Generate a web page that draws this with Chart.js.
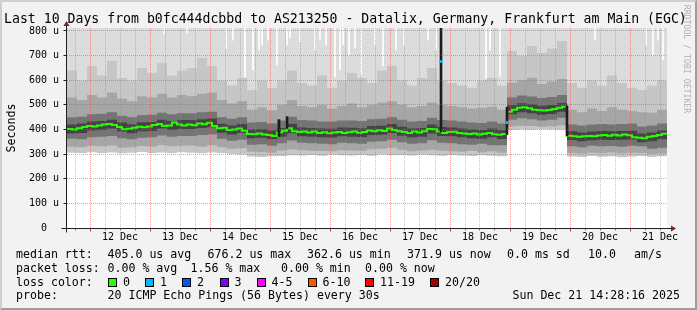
<!DOCTYPE html>
<html>
<head>
<meta charset="utf-8">
<script src="https://cdn.jsdelivr.net/npm/chart.js@4.4.1/dist/chart.umd.min.js"></script>
<style>
html,body{margin:0;padding:0;}
body{width:697px;height:310px;overflow:hidden;background:#f2f2f2;position:relative;font-family:'DejaVu Sans Mono',monospace;color:#000;}
#c{position:absolute;left:0;top:0;}
.t{position:absolute;white-space:pre;line-height:14px;font-size:11.6px;}
#title{left:4px;top:12px;font-size:13.2px;}
#frame{position:absolute;left:0;top:0;width:697px;height:310px;box-sizing:border-box;border-top:2px solid #cfcfcf;border-left:2px solid #cfcfcf;border-right:2px solid #9e9e9e;border-bottom:2px solid #9e9e9e;pointer-events:none;}
.sw{position:absolute;width:9px;height:9px;box-sizing:border-box;border:1px solid #000;top:278px;}
</style>
</head>
<body>
<canvas id="c" width="697" height="310"></canvas>
<div class="t" id="title">Last 10 Days from b0fc444dcbbd to AS213250 - Datalix, Germany, Frankfurt am Main (EGC)</div>
<div class="t" style="left:-14px;top:120.5px;width:50px;text-align:center;transform:rotate(-90deg);">Seconds</div>
<div class="t" style="left:632px;top:52px;width:110px;text-align:center;font-size:8.2px;color:#b0b0b0;transform:rotate(90deg);">RRDTOOL / TOBI OETIKER</div>

<div class="t" style="left:16px;top:247px">median rtt:</div>
<div class="t" style="left:107.5px;top:247px">405.0 us avg</div>
<div class="t" style="left:207.5px;top:247px">676.2 us max</div>
<div class="t" style="left:307px;top:247px">362.6 us min</div>
<div class="t" style="left:407px;top:247px">371.9 us now</div>
<div class="t" style="left:507px;top:247px">0.0 ms sd</div>
<div class="t" style="left:588px;top:247px">10.0</div>
<div class="t" style="left:634px;top:247px">am/s</div>

<div class="t" style="left:16px;top:260.8px">packet loss:</div>
<div class="t" style="left:107.5px;top:260.8px">0.00 % avg</div>
<div class="t" style="left:190.5px;top:260.8px">1.56 % max</div>
<div class="t" style="left:281px;top:260.8px">0.00 % min</div>
<div class="t" style="left:365px;top:260.8px">0.00 % now</div>

<div class="t" style="left:16px;top:274.6px">loss color:</div>
<div id="legend"></div>

<div class="t" style="left:16px;top:288.4px">probe:</div>
<div class="t" style="left:107.5px;top:288.4px">20 ICMP Echo Pings (56 Bytes) every 30s</div>
<div class="t" style="right:17px;top:288.4px">Sun Dec 21 14:28:16 2025</div>
<div id="frame"></div>

<script>
// ---------- data ----------
const dayLabels = ['12 Dec','13 Dec','14 Dec','15 Dec','16 Dec','17 Dec','18 Dec','19 Dec','20 Dec','21 Dec'];
const firstMidnightHour = 9.2; // hours from graph start to 12 Dec 00:00
const yTickValues = [0,100,200,300,400,500,600,700,800];
const yTickLabels = ['0  ','100 u','200 u','300 u','400 u','500 u','600 u','700 u','800 u'];

// median rtt (us), every 2 hours from graph start
const medianHours = Array.from({length:121}, (_, i) => i * 2);
const medianRtt = [
 402,400,405,410,414,412,416,420,422,418,410,401,403,407,411,409,412,418,422,414,
 416,428,420,416,420,417,424,421,427,414,405,407,398,400,404,395,382,381,384,380,
 378,374,388,395,405,393,390,392,388,392,386,389,385,388,390,386,389,392,387,390,
 396,393,397,394,404,398,393,390,386,392,388,393,402,401,392,386,390,391,386,384,
 382,384,380,383,386,381,379,382,472,480,488,490,486,480,478,477,479,483,488,492,
 375,372,370,373,374,372,376,378,375,379,376,380,377,368,366,364,370,374,378,383,
 384];

// smoke band boundaries (us), every 4 hours from graph start
const smokeHours = Array.from({length:61}, (_, i) => i * 4);
const smokeLo0 = [306,304,308,305,307,303,306,309,305,307,304,308,306,303,307,305,300,298,
 290,288,291,
 292,295,294,296,293,297,295,294,296,293,298,295,296,294,297,295,293,296,294,292,295,293,291,
 398,400,399,401,400,399,
 290,288,292,289,291,287,290,292,288,291,289];
const smokeLo1 = [330,328,334,332,335,326,328,333,331,336,332,334,335,330,336,328,322,324,
 310,308,306,
 315,320,316,314,313,312,316,315,314,320,322,326,318,312,315,318,314,312,310,313,308,312,306,
 412,415,414,411,413,416,
 305,302,306,304,307,303,306,305,300,302,306];
const smokeLo2 = [362,360,368,370,374,364,360,366,368,376,370,374,374,378,380,362,354,358,
 338,340,334,
 344,355,346,344,342,340,346,344,342,350,352,358,348,342,344,356,346,344,340,338,342,336,336,
 440,446,442,436,440,448,
 332,328,334,332,333,330,334,332,322,326,334];
const smokeLo3 = [384,386,396,398,404,392,385,393,394,404,398,402,402,406,409,387,380,386,
 364,366,360,
 370,385,372,370,368,367,372,370,369,378,379,386,375,368,370,384,374,372,368,364,362,368,361,
 462,470,466,460,463,472,
 357,352,356,358,357,358,359,348,352,360,366];
const smokeHi3 = [420,424,432,434,440,428,421,429,430,440,434,438,438,442,445,423,416,422,
 400,402,396,
 406,423,408,406,404,403,408,407,405,414,415,422,411,404,406,420,410,408,404,400,398,404,397,
 498,506,502,496,499,508,
 393,388,392,394,393,394,395,384,388,396,402];
const smokeHi2 = [450,452,462,464,470,456,450,458,460,468,462,466,466,470,472,450,444,450,
 428,430,424,
 436,452,438,436,432,432,436,436,434,442,444,450,440,432,434,448,438,436,432,428,426,432,424,
 530,538,534,528,532,540,
 420,416,420,422,420,422,424,412,416,424,430];
const smokeHi1 = [530,520,540,530,550,525,515,535,530,545,530,540,535,545,550,520,505,515,
 480,490,478,
 500,520,495,490,500,485,495,505,490,500,510,515,500,490,495,510,500,495,490,485,488,492,480,
 590,600,610,585,595,605,
 480,470,485,475,490,480,475,470,468,480,485];
const smokeHi0 = [640,600,660,620,680,610,600,650,630,670,620,640,650,690,660,600,580,610,
 560,600,570,
 600,640,590,580,620,570,600,630,610,590,640,660,600,580,610,650,600,590,580,570,600,610,580,
 720,700,740,710,730,760,
 590,570,600,580,620,590,570,560,580,600,610];

// narrow dense smoke columns (us)
const spikeHours = [84.8, 88.0, 149.6, 176.0, 200.0];
const spikeLow   = [372, 404, 390, 380, 374];
const spikeHigh  = [440, 452, 812, 490, 496];

// moments where the slowest ping stayed under the top of the graph (us)
const maxDipHours = [38.8,48,63.6,66.4,71.2,74.4,76.8,78,80.4,84,88,89.2,93.2,99.2,101.2,103.6,
 107.2,109.2,110.4,112.8,115.2,117.6,123.2,126.4,131.6,134.8,144.4,147.6,167.6,169.2,173.2,211.2,231.6,234.4,236.4,238.4];
const maxDipValues = [788,792,727,763,613,642,723,743,763,662,743,772,755,723,763,743,
 613,642,743,703,731,621,743,658,723,743,763,723,609,723,613,763,743,703,763,682];

// samples with 1/20 packet loss
const lossHours  = [149.6, 176.0];
const lossValues = [676, 428];

const lossLabels = ['0','1','2','3','4-5','6-10','11-19','20/20'];
const lossColors = ['#26ff00','#00b8ff','#0059ff','#7e00ff','#ff00ff','#ff5500','#ff0000','#a10000'];

// ---------- legend swatches ----------
const swLeft = [108,145,182,219.5,256.5,307.5,365,430];
const lg = document.getElementById('legend');
lossLabels.forEach((l, i) => {
  const s = document.createElement('div'); s.className = 'sw';
  s.style.left = swLeft[i] + 'px'; s.style.background = lossColors[i]; lg.appendChild(s);
  const t = document.createElement('div'); t.className = 't';
  t.style.left = (swLeft[i] + 15) + 'px'; t.style.top = '274.6px'; t.textContent = l; lg.appendChild(t);
});

// ---------- chart ----------
const Y_MAX = 812;
const GRID = 'rgba(140,140,140,0.5)';
const MGRID = 'rgba(222,79,79,0.55)';
const pts = (xs, ys) => xs.map((x, i) => ({x, y: ys[i]}));
const band = (ys, fill, color) => ({
  type: 'line', data: pts(smokeHours, ys), stepped: true, pointRadius: 0,
  borderWidth: 0, borderColor: 'rgba(0,0,0,0)', backgroundColor: color, fill: fill
});

function isMidnight(v) { const d = (v - firstMidnightHour) / 24; return Math.abs(d - Math.round(d)) < 1e-6; }

const rrdPlugin = {
  id: 'rrd',
  beforeDraw(chart) {
    const {ctx, chartArea: a} = chart;
    ctx.save(); ctx.fillStyle = '#ffffff';
    ctx.fillRect(a.left, a.top, a.right - a.left, a.bottom - a.top);
    ctx.restore();
  },
  afterDraw(chart) {
    const {ctx, chartArea: a, scales} = chart;
    const al = p => Math.round(p - 0.5) + 0.5;
    ctx.save();
    ctx.lineWidth = 1;
    ctx.strokeStyle = '#1f1f1f';
    const ax = al(a.left) - 1, ay = al(a.bottom);
    scales.y.ticks.forEach(t => {
      const py = al(scales.y.getPixelForValue(t.value));
      ctx.beginPath(); ctx.moveTo(ax - 3, py); ctx.lineTo(ax, py); ctx.stroke();
    });
    scales.x.ticks.forEach(t => {
      const px = al(scales.x.getPixelForValue(t.value));
      const major = isMidnight(t.value);
      ctx.strokeStyle = major ? '#b04040' : '#777';
      ctx.beginPath(); ctx.moveTo(px, ay); ctx.lineTo(px, ay + (major ? 3 : 2)); ctx.stroke();
    });
    ctx.strokeStyle = '#1f1f1f';
    ctx.beginPath(); ctx.moveTo(ax - 5, ay); ctx.lineTo(a.right + 5, ay); ctx.stroke();
    ctx.beginPath(); ctx.moveTo(ax, ay + 4); ctx.lineTo(ax, a.top - 3); ctx.stroke();
    ctx.fillStyle = '#801f1f';
    ctx.beginPath(); ctx.moveTo(a.right + 4, ay - 3); ctx.lineTo(a.right + 9, ay); ctx.lineTo(a.right + 4, ay + 3); ctx.closePath(); ctx.fill();
    ctx.beginPath(); ctx.moveTo(ax - 3, a.top - 2); ctx.lineTo(ax, a.top - 7); ctx.lineTo(ax + 3, a.top - 2); ctx.closePath(); ctx.fill();
    ctx.restore();
  }
};

new Chart(document.getElementById('c'), {
  type: 'line',
  data: {
    datasets: [
      { type: 'line', data: pts(lossHours, lossValues), showLine: false, pointStyle: 'rect',
        pointRadius: 2, pointBackgroundColor: lossColors[1], pointBorderWidth: 0, borderColor: 'rgba(0,0,0,0)' },
      { type: 'bar', data: spikeHours.map((h, i) => ({x: h, y: [spikeLow[i], spikeHigh[i]]})),
        backgroundColor: '#1c1c1c', borderWidth: 0, barThickness: 2, grouped: false },
      { type: 'bar', data: maxDipHours.map((h, i) => ({x: h, y: [maxDipValues[i], Y_MAX]})),
        backgroundColor: '#ffffff', borderWidth: 0, barThickness: 1, grouped: false },
      { type: 'line', data: pts(medianHours, medianRtt), stepped: true, pointRadius: 0,
        borderWidth: 2, borderColor: lossColors[0], fill: false },
      band(smokeLo3, 8, '#444444'),
      band(smokeLo2, 9, '#747474'),
      band(smokeLo1, 10, '#a6a6a6'),
      band(smokeLo0, 11, '#c6c6c6'),
      band(smokeHi3, false, 'rgba(0,0,0,0)'),
      band(smokeHi2, false, 'rgba(0,0,0,0)'),
      band(smokeHi1, false, 'rgba(0,0,0,0)'),
      band(smokeHi0, 'end', '#dcdcdc')
    ]
  },
  options: {
    responsive: false, animation: false, devicePixelRatio: 1,
    layout: { padding: { left: 0, top: 28, right: 30, bottom: 67 } },
    plugins: { legend: { display: false }, tooltip: { enabled: false }, title: { display: false } },
    scales: {
      x: {
        type: 'linear', min: 0, max: 240, offset: false,
        afterBuildTicks: s => {
          const t = [];
          for (let k = 0; firstMidnightHour - 6 + 6 * k <= 240; k++) t.push({value: firstMidnightHour - 6 + 6 * k});
          s.ticks = t;
        },
        afterFit: s => { s.height = 15; },
        grid: {
          offset: false, drawTicks: false, z: 1, lineWidth: 1,
          color: c => c.type === 'tick' ? (isMidnight(c.tick.value) ? MGRID : GRID) : 'rgba(0,0,0,0)'
        },
        border: { display: false, dash: [1, 1] },
        ticks: {
          display: true, autoSkip: false, maxRotation: 0, minRotation: 0, padding: 3, color: '#000',
          font: { family: 'DejaVu Sans Mono', size: 10 },
          callback: v => {
            const d = (v - firstMidnightHour - 12) / 24;
            const r = Math.round(d);
            return (Math.abs(d - r) < 1e-6 && r >= 0 && r < dayLabels.length) ? dayLabels[r] : '';
          }
        }
      },
      y: {
        type: 'linear', min: 0, max: Y_MAX,
        afterBuildTicks: s => {
          const t = [];
          for (let k = 0; k <= 16; k++) t.push({value: k * 50});
          s.ticks = t;
        },
        afterFit: s => { s.width = 67; },
        grid: {
          drawTicks: false, z: 1, lineWidth: 1,
          color: c => {
            if (c.type !== 'tick' || c.tick.value === 0) return 'rgba(0,0,0,0)';
            return c.tick.value % 100 === 0 ? MGRID : GRID;
          }
        },
        border: { display: false, dash: [1, 1] },
        ticks: {
          padding: 8, color: '#000', font: { family: 'DejaVu Sans Mono', size: 10 },
          callback: v => { const i = yTickValues.indexOf(v); return i >= 0 ? yTickLabels[i] : ''; }
        }
      }
    }
  },
  plugins: [rrdPlugin]
});
</script>
</body>
</html>
